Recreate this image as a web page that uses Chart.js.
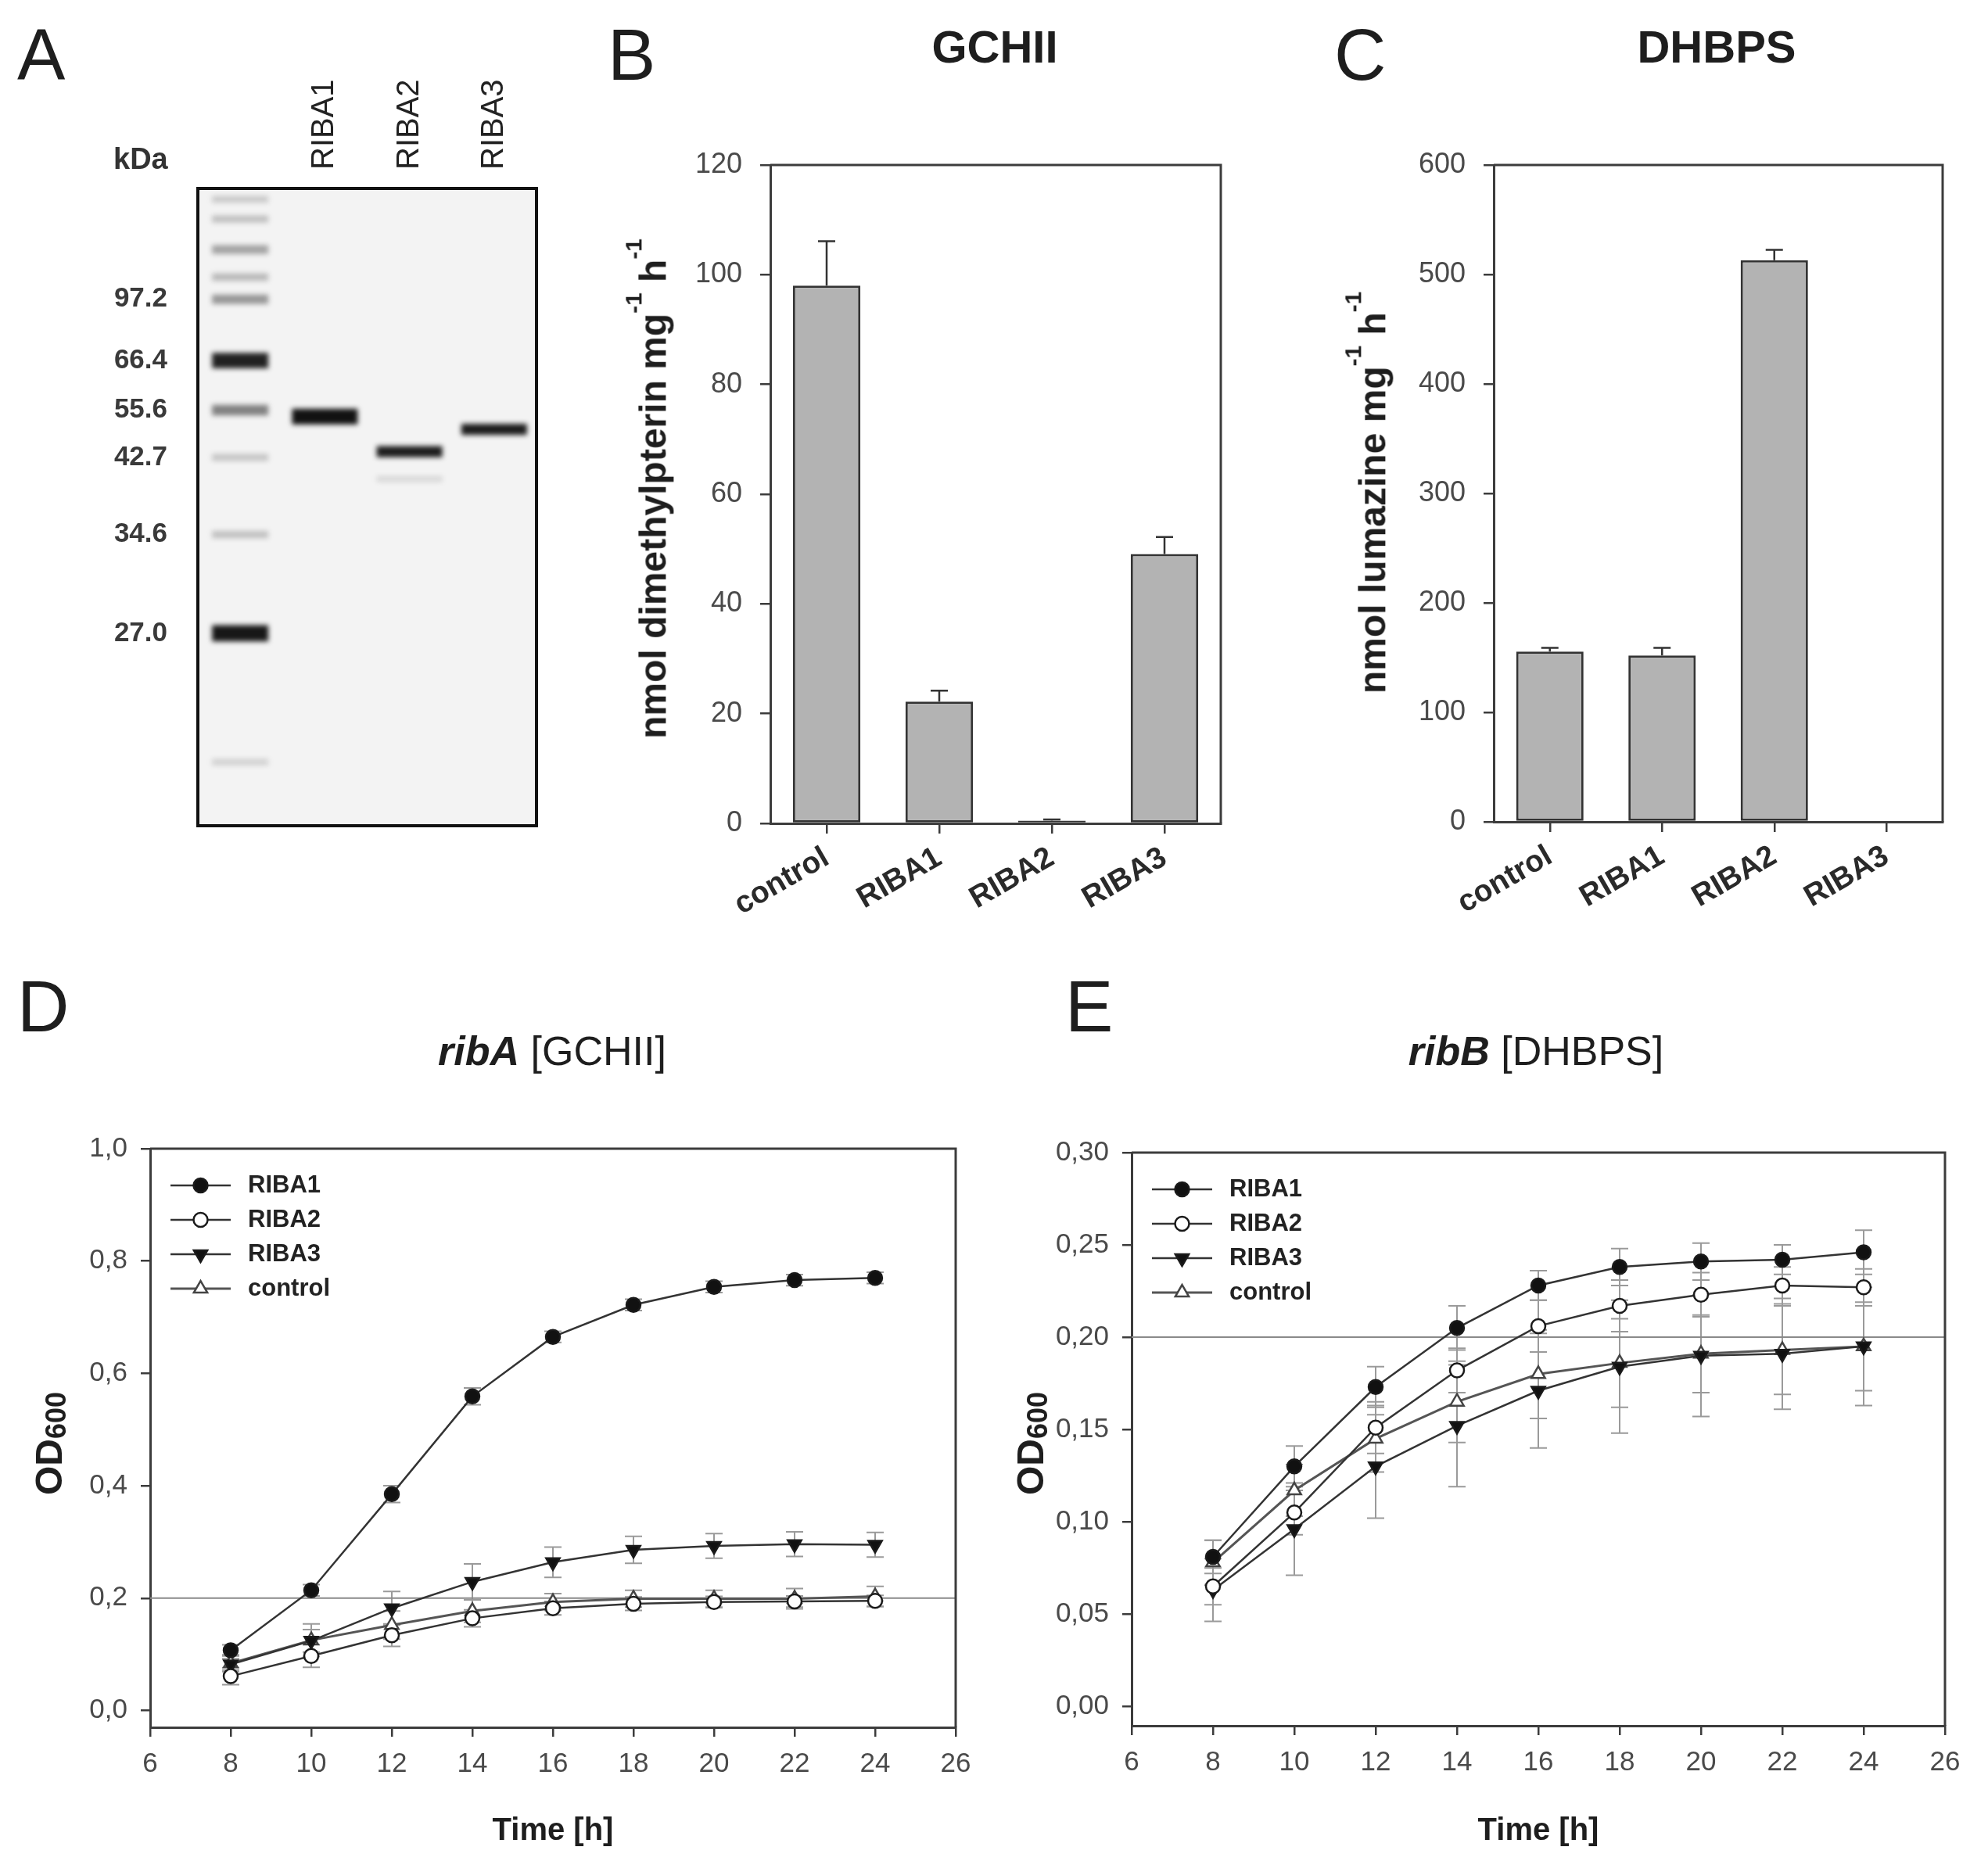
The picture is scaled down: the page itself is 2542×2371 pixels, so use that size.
<!DOCTYPE html>
<html>
<head>
<meta charset="utf-8">
<title>RIBA proteins – activity and growth</title>
<script src="https://cdn.jsdelivr.net/npm/chart.js@4.4.0/dist/chart.umd.min.js"></script>
<style>
  html, body { margin: 0; padding: 0; background: #fff; }
  #page { position: relative; width: 2542px; height: 2371px; background: #fff; overflow: hidden;
          font-family: "Liberation Sans", Arial, sans-serif; color: #1e1e1e; }
  .layer { position: absolute; left: 0; top: 0; width: 2542px; height: 2371px; }
  .txt { position: absolute; white-space: nowrap; line-height: 1; }
  .sup { font-size: 62%; line-height: 0; vertical-align: 1.05em; }
  .sub { font-size: 75%; line-height: 0; vertical-align: -0.15em; }
</style>
</head>
<body>
<div id="page">
  <div class="layer"><canvas id="gel"></canvas></div>
  <div class="layer"><canvas id="gchii"></canvas></div>
  <div class="layer"><canvas id="dhbps"></canvas></div>
  <div class="layer"><canvas id="ribA"></canvas></div>
  <div class="layer"><canvas id="ribB"></canvas></div>
</div>
<script>
// ---- data ----

// A: SDS gel (band positions in % of gel height from the top)
const gelLanes = ['', 'RIBA1', 'RIBA2', 'RIBA3'];
const markerKda = ['97.2', '66.4', '55.6', '42.7', '34.6', '27.0'];
const markerPos = [17.4, 27.0, 34.8, 42.2, 54.3, 69.8];
const ladderPos = [1.7, 4.8, 9.6, 13.9, 17.4, 27.0, 34.8, 42.2, 54.3, 69.8, 90.0];
const ladderInt = [0.18, 0.22, 0.35, 0.25, 0.4, 0.92, 0.5, 0.2, 0.22, 0.97, 0.15];
const sampleLane = [1, 2, 2, 3];
const samplePos = [35.8, 41.3, 45.6, 37.8];
const sampleInt = [0.97, 0.92, 0.12, 0.92];

// B / C: enzyme activities
const enzymes = ['control', 'RIBA1', 'RIBA2', 'RIBA3'];
const gchiiMean = [98.0, 22.2, 0.5, 49.1];
const gchiiErr = [8.1, 2.0, 0.2, 3.1];
const gchiiTicks = [0, 20, 40, 60, 80, 100, 120];
const dhbpsMean = [155.5, 152.0, 513.0, 0];
const dhbpsErr = [3.5, 7.0, 9.5, 0];
const dhbpsTicks = [0, 100, 200, 300, 400, 500, 600];

// D / E: growth curves
const hours = [8, 10, 12, 14, 16, 18, 20, 22, 24];
const hourTicks = [6, 8, 10, 12, 14, 16, 18, 20, 22, 24, 26];
const strains = ['RIBA1', 'RIBA2', 'RIBA3', 'control'];
const threshold = 0.2;

const ribA_riba1 = [0.107, 0.214, 0.385, 0.559, 0.665, 0.722, 0.754, 0.766, 0.770];
const ribA_riba2 = [0.061, 0.097, 0.134, 0.164, 0.182, 0.190, 0.193, 0.194, 0.195];
const ribA_riba3 = [0.082, 0.124, 0.182, 0.229, 0.264, 0.286, 0.293, 0.296, 0.295];
const ribA_ctrl  = [0.084, 0.125, 0.152, 0.177, 0.193, 0.199, 0.199, 0.199, 0.203];
const ribA_riba1Err = [0.010, 0.010, 0.015, 0.015, 0.010, 0.010, 0.010, 0.010, 0.010];
const ribA_riba2Err = [0.015, 0.020, 0.020, 0.015, 0.012, 0.012, 0.010, 0.010, 0.010];
const ribA_riba3Err = [0.010, 0.020, 0.030, 0.032, 0.027, 0.024, 0.022, 0.022, 0.022];
const ribA_ctrlErr  = [0.015, 0.029, 0.025, 0.020, 0.015, 0.015, 0.015, 0.018, 0.018];
const ribATicks = [0, 0.2, 0.4, 0.6, 0.8, 1.0];

const ribB_riba1 = [0.081, 0.130, 0.173, 0.205, 0.228, 0.238, 0.241, 0.242, 0.246];
const ribB_riba2 = [0.065, 0.105, 0.151, 0.182, 0.206, 0.217, 0.223, 0.228, 0.227];
const ribB_riba3 = [0.063, 0.096, 0.130, 0.152, 0.171, 0.184, 0.190, 0.191, 0.195];
const ribB_ctrl  = [0.078, 0.117, 0.145, 0.165, 0.180, 0.186, 0.191, 0.193, 0.195];
const ribB_riba1Err = [0.009, 0.011, 0.011, 0.012, 0.008, 0.010, 0.010, 0.008, 0.012];
const ribB_riba2Err = [0.010, 0.012, 0.014, 0.012, 0.014, 0.014, 0.012, 0.010, 0.010];
const ribB_riba3Err = [0.017, 0.025, 0.028, 0.033, 0.031, 0.036, 0.033, 0.030, 0.032];
const ribB_ctrlErr  = [0.012, 0.014, 0.018, 0.022, 0.024, 0.024, 0.021, 0.024, 0.024];
const ribBTicks = [0, 0.05, 0.10, 0.15, 0.20, 0.25, 0.30];

// ---- common settings ----
const FONT = '"Liberation Sans", Arial, sans-serif';
Chart.defaults.font.family = FONT;
Chart.defaults.animation = false;
Chart.defaults.plugins.legend.display = false;
Chart.defaults.plugins.tooltip.enabled = false;

const AXIS = '#3c3c3c';
const PAGE_W = 2542, PAGE_H = 2371;

// every canvas covers the page; the left/bottom (or top) axis boxes reach the page edge,
// so the chart area lands exactly on the given page rectangle
function place(left, top, right, bottom, topAxis) {
  return {
    padding: {
      left: 0,
      right: PAGE_W - right,
      top: topAxis ? 0 : top,
      bottom: topAxis ? PAGE_H - bottom : 0
    },
    yWidth: left,
    xHeight: topAxis ? top : PAGE_H - bottom
  };
}
function fitTo(size) {
  return s => {
    s.paddingLeft = s.paddingRight = s.paddingTop = s.paddingBottom = 0;
    if (s.isHorizontal()) s.height = size; else s.width = size;
  };
}
function fixedTicks(list) {
  return axis => { axis.ticks = list.map(v => ({ value: v })); };
}
function axisStyle(tickLen) {
  return {
    border: { display: true, color: AXIS, width: 3 },
    grid: { drawOnChartArea: false, drawTicks: true, tickLength: tickLen, color: AXIS, lineWidth: 2.5, offset: false },
  };
}

// box closing lines (top and right)
const frame = {
  id: 'frame',
  afterDraw(chart, args, opts) {
    if (!opts.show) return;
    const { ctx, chartArea: a } = chart;
    ctx.save();
    ctx.strokeStyle = opts.color || AXIS;
    ctx.lineWidth = opts.width || 3;
    ctx.beginPath();
    ctx.moveTo(a.left, a.top);
    ctx.lineTo(a.right, a.top);
    ctx.lineTo(a.right, a.bottom);
    ctx.stroke();
    ctx.restore();
  }
};

// error bars drawn through the y scale
function drawErrors(chart, opts) {
  const { ctx } = chart;
  const yScale = chart.scales.y;
  ctx.save();
  ctx.strokeStyle = opts.color;
  ctx.lineWidth = opts.width;
  chart.data.datasets.forEach((ds, i) => {
    if (!ds.errors) return;
    const meta = chart.getDatasetMeta(i);
    meta.data.forEach((el, j) => {
      const raw = ds.data[j];
      const v = typeof raw === 'object' ? raw.y : raw;
      const e = ds.errors[j];
      if (!e) return;
      const yTop = yScale.getPixelForValue(v + e);
      const yBot = opts.upperOnly ? el.y : yScale.getPixelForValue(v - e);
      ctx.beginPath();
      ctx.moveTo(el.x, yBot); ctx.lineTo(el.x, yTop);
      ctx.moveTo(el.x - opts.cap, yTop); ctx.lineTo(el.x + opts.cap, yTop);
      if (!opts.upperOnly) { ctx.moveTo(el.x - opts.cap, yBot); ctx.lineTo(el.x + opts.cap, yBot); }
      ctx.stroke();
    });
  });
  ctx.restore();
}
const errorBars = {
  id: 'errorBars',
  beforeDatasetsDraw(chart, args, opts) { if (opts.show && opts.behind) drawErrors(chart, opts); },
  afterDatasetsDraw(chart, args, opts) { if (opts.show && !opts.behind) drawErrors(chart, opts); }
};

// horizontal reference line
const refLine = {
  id: 'refLine',
  beforeDatasetsDraw(chart, args, opts) {
    if (opts.value === undefined) return;
    const { ctx, chartArea: a } = chart;
    const y = chart.scales.y.getPixelForValue(opts.value);
    ctx.save();
    ctx.strokeStyle = opts.color; ctx.lineWidth = opts.width;
    ctx.beginPath(); ctx.moveTo(a.left, y); ctx.lineTo(a.right, y); ctx.stroke();
    ctx.restore();
  }
};

// legend inside the plot, SigmaPlot style (line + symbol + label)
const insideLegend = {
  id: 'insideLegend',
  afterDatasetsDraw(chart, args, opts) {
    if (!opts.show) return;
    const { ctx, chartArea: a } = chart;
    const x0 = a.left + opts.dx, y0 = a.top + opts.dy;
    chart.data.datasets.forEach((ds, i) => {
      const y = y0 + i * opts.gap;
      ctx.save();
      ctx.strokeStyle = ds.borderColor;
      ctx.lineWidth = ds.borderWidth;
      ctx.beginPath(); ctx.moveTo(x0, y); ctx.lineTo(x0 + opts.len, y); ctx.stroke();
      ctx.fillStyle = ds.pointBackgroundColor;
      ctx.strokeStyle = ds.pointBorderColor;
      ctx.lineWidth = ds.pointBorderWidth;
      Chart.helpers.drawPoint(ctx, {
        pointStyle: ds.pointStyle, rotation: ds.pointRotation || 0,
        radius: ds.pointRadius, borderWidth: ds.pointBorderWidth
      }, x0 + opts.len / 2, y);
      ctx.fillStyle = '#222';
      ctx.font = 'bold ' + opts.size + 'px ' + FONT;
      ctx.textBaseline = 'middle';
      ctx.textAlign = 'left';
      ctx.fillText(ds.label, x0 + opts.len + 22, y);
      ctx.restore();
    });
  }
};

// gel background, blur for the bands, black border
const gelLook = {
  id: 'gelLook',
  beforeDraw(chart, args, opts) {
    if (!opts.show) return;
    const { ctx, chartArea: a } = chart;
    ctx.save(); ctx.fillStyle = '#f3f3f3';
    ctx.fillRect(a.left, a.top, a.right - a.left, a.bottom - a.top);
    ctx.restore();
  },
  beforeDatasetsDraw(chart, args, opts) {
    if (!opts.show) return;
    chart.ctx.save();
    chart.ctx.filter = 'blur(3px)';
  },
  afterDatasetsDraw(chart, args, opts) {
    if (!opts.show) return;
    chart.ctx.restore();
  },
  afterDraw(chart, args, opts) {
    if (!opts.show) return;
    const { ctx, chartArea: a } = chart;
    ctx.save(); ctx.strokeStyle = '#111'; ctx.lineWidth = 4;
    ctx.strokeRect(a.left, a.top, a.right - a.left, a.bottom - a.top);
    ctx.restore();
  }
};

Chart.register(frame, errorBars, refLine, insideLegend, gelLook);

// ---- A: gel ----
const gelBox = place(253, 241, 686, 1056, true);
new Chart(document.getElementById('gel'), {
  type: 'scatter',
  data: {
    datasets: [
      {
        label: 'marker',
        data: ladderPos.map(y => ({ x: 0, y: y })),
        pointStyle: 'line',
        pointRadius: 36,
        pointBorderWidth: c => 6 + 15 * ladderInt[c.dataIndex],
        pointBorderColor: c => 'rgba(15,15,15,' + ladderInt[c.dataIndex] + ')'
      },
      {
        label: 'samples',
        data: sampleLane.map((x, i) => ({ x: x, y: samplePos[i] })),
        pointStyle: 'line',
        pointRadius: 42,
        pointBorderWidth: c => (c.dataIndex === 0 ? 20 : 6 + 9 * sampleInt[c.dataIndex]),
        pointBorderColor: c => 'rgba(10,10,10,' + sampleInt[c.dataIndex] + ')'
      }
    ]
  },
  options: {
    responsive: true, maintainAspectRatio: false, devicePixelRatio: 1,
    layout: { padding: gelBox.padding },
    scales: {
      x: {
        type: 'linear', position: 'top', min: -0.5, max: 3.5,
        afterBuildTicks: fixedTicks([0, 1, 2, 3]),
        afterFit: fitTo(gelBox.xHeight),
        border: { display: false },
        grid: { display: false, drawTicks: false },
        ticks: {
          callback: v => gelLanes[v], minRotation: 90, maxRotation: 90, autoSkip: false,
          // tiny line height keeps the rotated label centred on its lane
          padding: 24, color: '#222', font: { size: 40, lineHeight: 0.001 }
        }
      },
      y: {
        type: 'linear', reverse: true, min: 0, max: 100,
        afterBuildTicks: fixedTicks(markerPos),
        afterFit: fitTo(gelBox.yWidth),
        border: { display: false },
        grid: { display: false, drawTicks: false },
        ticks: {
          callback: v => markerKda[markerPos.indexOf(v)], autoSkip: false,
          padding: 39, color: '#3a3a3a', font: { size: 35, weight: 'bold' }
        }
      }
    },
    plugins: { gelLook: { show: true } }
  }
});

// ---- B / C: bar charts ----
function barChart(id, means, errs, ticks, max, box) {
  return new Chart(document.getElementById(id), {
    type: 'bar',
    data: {
      labels: enzymes,
      datasets: [{
        data: means,
        errors: errs,
        backgroundColor: '#b3b3b3',
        borderColor: '#333',
        borderWidth: 3,
        borderSkipped: false,
        barPercentage: 0.6,
        categoryPercentage: 1.0
      }]
    },
    options: {
      responsive: true, maintainAspectRatio: false, devicePixelRatio: 1,
      layout: { padding: box.padding },
      scales: {
        x: Object.assign(axisStyle(13), {
          afterFit: fitTo(box.xHeight),
          ticks: {
            minRotation: 30, maxRotation: 30, autoSkip: false, padding: 8,
            color: '#2a2a2a', font: { size: 39, weight: 'bold' }
          }
        }),
        y: Object.assign(axisStyle(13), {
          min: 0, max: max,
          afterBuildTicks: fixedTicks(ticks),
          afterFit: fitTo(box.yWidth),
          ticks: { padding: 23, color: '#4a4a4a', font: { size: 36 } }
        })
      },
      plugins: {
        frame: { show: true },
        errorBars: { show: true, upperOnly: true, behind: false, color: '#333', width: 2.5, cap: 11 }
      }
    }
  });
}
barChart('gchii', gchiiMean, gchiiErr, gchiiTicks, 120, place(985, 211, 1561, 1053));
barChart('dhbps', dhbpsMean, dhbpsErr, dhbpsTicks, 600, place(1910, 211, 2484, 1051));

// ---- D / E: growth curves ----
function series(label, values, errs, look) {
  return Object.assign({
    label: label,
    data: hours.map((h, i) => ({ x: h, y: values[i] })),
    errors: errs,
    borderColor: '#333',
    borderWidth: 2.5,
    tension: 0,
    pointBorderWidth: 2.5,
    pointBorderColor: '#1a1a1a',
    fill: false
  }, look);
}
const lookRiba1 = { pointStyle: 'circle', pointRadius: 9, pointBackgroundColor: '#111' };
const lookRiba2 = { pointStyle: 'circle', pointRadius: 9, pointBackgroundColor: '#fff' };
const lookRiba3 = { pointStyle: 'triangle', pointRotation: 180, pointRadius: 10, pointBackgroundColor: '#111' };
const lookCtrl  = { pointStyle: 'triangle', pointRadius: 10, pointBackgroundColor: '#fff',
                    pointBorderColor: '#444', borderColor: '#555', borderWidth: 3 };

function growthChart(id, sets, ticks, yMin, yMax, digits, box) {
  return new Chart(document.getElementById(id), {
    type: 'line',
    data: {
      datasets: [
        series(strains[0], sets[0], sets[4], lookRiba1),
        series(strains[1], sets[1], sets[5], lookRiba2),
        series(strains[2], sets[2], sets[6], lookRiba3),
        series(strains[3], sets[3], sets[7], lookCtrl)
      ]
    },
    options: {
      responsive: true, maintainAspectRatio: false, devicePixelRatio: 1,
      layout: { padding: box.padding },
      scales: {
        x: Object.assign(axisStyle(12), {
          type: 'linear', min: 6, max: 26,
          afterBuildTicks: fixedTicks(hourTicks),
          afterFit: fitTo(box.xHeight),
          ticks: { padding: 14, color: '#4a4a4a', font: { size: 35 } }
        }),
        y: Object.assign(axisStyle(12), {
          type: 'linear', min: yMin, max: yMax,
          afterBuildTicks: fixedTicks(ticks),
          afterFit: fitTo(box.yWidth),
          ticks: {
            padding: 17, color: '#4a4a4a', font: { size: 35 },
            callback: v => v.toFixed(digits).replace('.', ',')
          }
        })
      },
      plugins: {
        frame: { show: true },
        refLine: { value: threshold, color: '#8a8a8a', width: 2 },
        errorBars: { show: true, upperOnly: false, behind: true, color: '#9a9a9a', width: 2, cap: 11 },
        insideLegend: { show: true, dx: 26, dy: 47, gap: 44, len: 77, size: 31 }
      }
    }
  });
}
growthChart('ribA',
  [ribA_riba1, ribA_riba2, ribA_riba3, ribA_ctrl, ribA_riba1Err, ribA_riba2Err, ribA_riba3Err, ribA_ctrlErr],
  ribATicks, -0.03, 1.0, 1, place(192, 1469, 1222, 2209));
growthChart('ribB',
  [ribB_riba1, ribB_riba2, ribB_riba3, ribB_ctrl, ribB_riba1Err, ribB_riba2Err, ribB_riba3Err, ribB_ctrlErr],
  ribBTicks, -0.0105, 0.30, 2, place(1447, 1474, 2487, 2207));

// ---- panel letters, titles, axis titles (HTML text) ----
const page = document.getElementById('page');
// horizontal text placed by its cap-height centre
function text(html, x, capY, size, opts) {
  opts = opts || {};
  const d = document.createElement('div');
  d.className = 'txt';
  d.innerHTML = html;
  d.style.fontSize = size + 'px';
  d.style.fontWeight = opts.bold ? 'bold' : 'normal';
  d.style.top = (capY - 0.4885 * size) + 'px';
  d.style.left = x + 'px';
  if (opts.center) d.style.transform = 'translateX(-50%)';
  if (opts.color) d.style.color = opts.color;
  page.appendChild(d);
}
// vertical text reading bottom to top, placed by its baseline x and centre y
function vtext(html, baseX, cy, size) {
  const d = document.createElement('div');
  d.className = 'txt';
  d.innerHTML = html;
  d.style.fontSize = size + 'px';
  d.style.fontWeight = 'bold';
  d.style.left = (baseX - 0.3465 * size) + 'px';
  d.style.top = cy + 'px';
  d.style.transform = 'translate(-50%, -50%) rotate(-90deg)';
  page.appendChild(d);
}

text('A', 22, 69, 92);
text('B', 777, 69, 92);
text('C', 1706, 69, 92);
text('D', 22, 1286, 92);
text('E', 1362, 1286, 92);

text('GCHII', 1272, 59, 58, { bold: true, center: true });
text('DHBPS', 2195, 59, 58, { bold: true, center: true });
text('<b><i>ribA</i></b> [GCHII]', 706, 1343, 52, { center: true });
text('<b><i>ribB</i></b> [DHBPS]', 1964, 1343, 52, { center: true });

text('kDa', 145, 203, 38, { bold: true, color: '#333' });

vtext('nmol dimethylpterin mg<span class="sup">-1</span> h<span class="sup">-1</span>', 852, 625, 48);
vtext('nmol lumazine mg<span class="sup">-1</span> h<span class="sup">-1</span>', 1772, 630, 48);
vtext('OD<span class="sub">600</span>', 80, 1846, 48);
vtext('OD<span class="sub">600</span>', 1335, 1846, 48);

text('Time [h]', 707, 2339, 40, { bold: true, center: true });
text('Time [h]', 1967, 2339, 40, { bold: true, center: true });
</script>
</body>
</html>
